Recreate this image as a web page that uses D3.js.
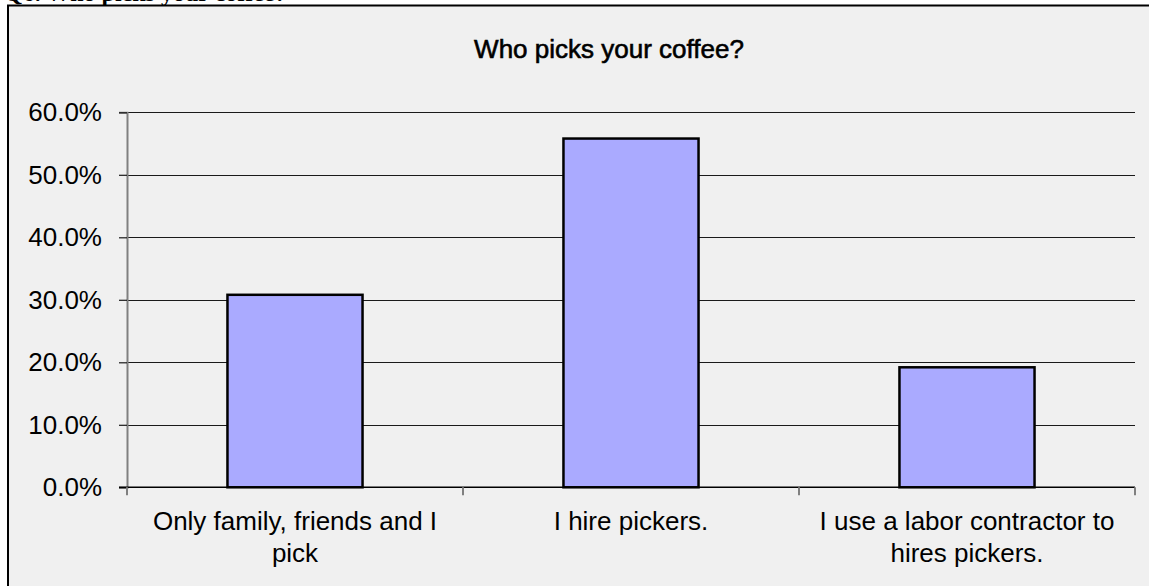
<!DOCTYPE html>
<html>
<head>
<meta charset="utf-8">
<script src="https://cdn.jsdelivr.net/npm/d3@7"></script>
<style>
  html, body { margin: 0; padding: 0; background: #ffffff; }
  svg { display: block; }
  text { font-family: "Liberation Sans", Arial, sans-serif; fill: #000; }
</style>
</head>
<body>
<svg id="chart" width="1149" height="586"></svg>
<script>
// Survey responses: share of farms by who picks the coffee
const categories = [
  ["Only family, friends and I", "pick"],
  ["I hire pickers."],
  ["I use a labor contractor to", "hires pickers."]
];
const values = [0.308, 0.558, 0.192];
const yTicks = [0, 0.1, 0.2, 0.3, 0.4, 0.5, 0.6];
const chartTitle = "Who picks your coffee?";
const questionText = "Q6. Who picks your coffee?";

const svg = d3.select("#chart");

// Question heading above the chart frame
svg.append("text")
  .attr("x", 4)
  .attr("y", 1)
  .style("font-family", "'Liberation Serif', 'Times New Roman', serif")
  .style("font-weight", "bold")
  .style("font-size", "24px")
  .text(questionText);

// Chart area frame
svg.append("rect")
  .attr("x", 8)
  .attr("y", 5.5)
  .attr("width", 1160)
  .attr("height", 600)
  .attr("fill", "#f0f0f0")
  .attr("stroke", "#000")
  .attr("stroke-width", 2);

const plot = { left: 127, right: 1135, top: 112.3, bottom: 487.3 };

const x = d3.scaleBand()
  .domain(d3.range(categories.length))
  .range([plot.left, plot.right])
  .padding(0);

const y = d3.scaleLinear()
  .domain([0, 0.6])
  .range([plot.bottom, plot.top]);

// Title
svg.append("text")
  .attr("x", 609)
  .attr("y", 57.5)
  .attr("text-anchor", "middle")
  .style("font-size", "26px")
  .style("stroke", "#000")
  .style("stroke-width", "0.6px")
  .text(chartTitle);

// Horizontal gridlines
svg.append("g")
  .selectAll("line")
  .data(yTicks.filter(d => d > 0))
  .join("line")
  .attr("x1", plot.left)
  .attr("x2", plot.right)
  .attr("y1", d => Math.round(y(d)) + 0.5)
  .attr("y2", d => Math.round(y(d)) + 0.5)
  .attr("stroke", "#1a1a1a")
  .attr("stroke-width", 1.2);

// Y axis
const yAxis = d3.axisLeft(y)
  .tickValues(yTicks)
  .tickFormat(d3.format(".1%"))
  .tickSize(8)
  .tickPadding(17);

const gy = svg.append("g")
  .attr("transform", `translate(${plot.left},0)`)
  .call(yAxis);
gy.select(".domain").attr("stroke", "#808080").attr("stroke-width", 2);
gy.selectAll(".tick line").attr("stroke", "#1a1a1a").attr("stroke-width", 1.2);
gy.selectAll(".tick text")
  .style("font-size", "26px")
  .style("font-family", "'Liberation Sans', Arial, sans-serif")
  .attr("fill", "#000");

// Bars
svg.append("g")
  .selectAll("rect")
  .data(values)
  .join("rect")
  .attr("x", (d, i) => x(i) + x.bandwidth() * 0.299)
  .attr("width", x.bandwidth() * 0.402)
  .attr("y", d => y(d))
  .attr("height", d => y(0) - y(d))
  .attr("fill", "#aaaaff")
  .attr("stroke", "#000")
  .attr("stroke-width", 2.5);

// X axis baseline and category boundary ticks
svg.append("line")
  .attr("x1", plot.left - 8)
  .attr("x2", plot.right)
  .attr("y1", y(0))
  .attr("y2", y(0))
  .attr("stroke", "#000")
  .attr("stroke-width", 1.5);

const boundaries = d3.range(categories.length + 1).map(i => plot.left + i * x.step());
svg.append("g")
  .selectAll("line")
  .data(boundaries)
  .join("line")
  .attr("x1", d => d)
  .attr("x2", d => d)
  .attr("y1", y(0))
  .attr("y2", y(0) + 8)
  .attr("stroke", "#808080")
  .attr("stroke-width", 2);

// Category labels (wrapped on two lines where needed)
const labels = svg.append("g")
  .selectAll("text")
  .data(categories)
  .join("text")
  .attr("text-anchor", "middle")
  .attr("x", (d, i) => x(i) + x.bandwidth() / 2)
  .attr("y", 530)
  .style("font-size", "26px");

labels.selectAll("tspan")
  .data(d => d)
  .join("tspan")
  .attr("x", function () { return d3.select(this.parentNode).attr("x"); })
  .attr("dy", (d, i) => i === 0 ? 0 : 31.5)
  .text(d => d);
</script>
</body>
</html>
